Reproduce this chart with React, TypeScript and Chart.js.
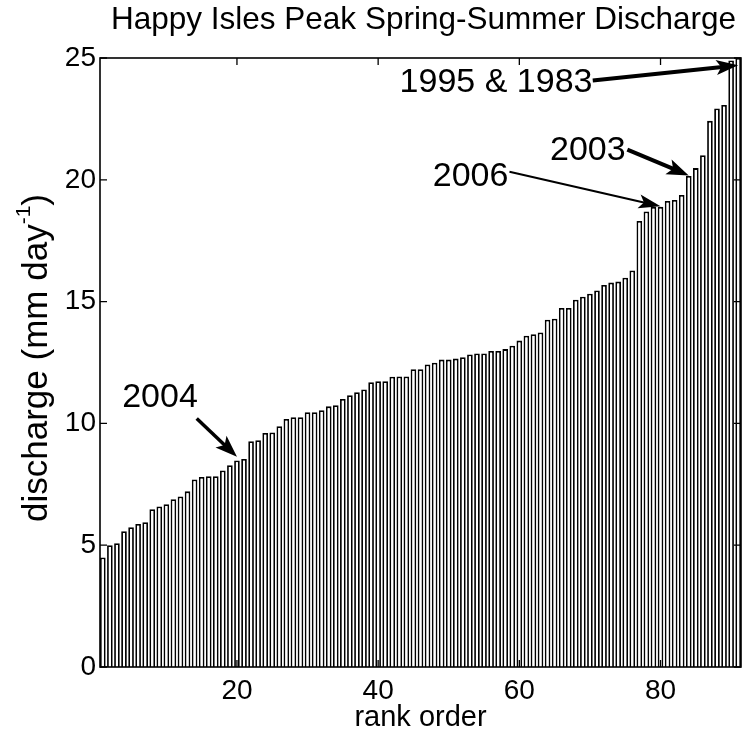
import React, { useEffect, useRef } from "react";
import { Chart, registerables } from "chart.js";

Chart.register(...registerables);

// Peak spring-summer discharge (mm/day), sorted by rank
const discharge = [
  4.5, 5.0, 5.08, 5.57, 5.74, 5.87, 5.94, 6.48, 6.59, 6.68,
  6.89, 7.0, 7.21, 7.7, 7.8, 7.83, 7.83, 8.07, 8.28, 8.48,
  8.54, 9.27, 9.31, 9.61, 9.63, 9.88, 10.18, 10.25, 10.25, 10.46,
  10.46, 10.54, 10.7, 10.75, 11.0, 11.16, 11.28, 11.39, 11.69, 11.73,
  11.73, 11.92, 11.93, 11.93, 12.22, 12.22, 12.42, 12.49, 12.62, 12.62,
  12.66, 12.72, 12.83, 12.87, 12.87, 12.97, 12.97, 13.05, 13.19, 13.4,
  13.6, 13.66, 13.73, 14.26, 14.3, 14.74, 14.74, 15.08, 15.2, 15.32,
  15.46, 15.68, 15.78, 15.82, 15.98, 16.28, 18.31, 18.7, 18.89, 18.89,
  19.13, 19.17, 19.38, 20.16, 20.48, 21.01, 22.42, 22.93, 23.07, 24.9,
  25.0,
];
const ranks = discharge.map((_, i) => i + 1);

const xTicks = [20, 40, 60, 80];
const yTicks = [0, 5, 10, 15, 20, 25];

const titleText = "Happy Isles Peak Spring-Summer Discharge";
const xTitle = "rank order";

// annotation labels and the rank each arrow points to
const noteTexts = ["2004", "2006", "2003", "1995 & 1983"];
const noteTargets = [20, 80, 84, 91];

const FONT = "'Liberation Sans', Arial, Helvetica, sans-serif";

const notesLayout = [
  { tx: 9.1, ty: 11.05, fx: 14.3, fy: 10.2, lw: 3.5, hl: 22, hw: 16, dy: 0.15 },
  { tx: 53.1, ty: 20.15, fx: 58.6, fy: 20.33, lw: 2, hl: 22, hw: 14, dy: 0.02 },
  { tx: 69.7, ty: 21.2, fx: 75.3, fy: 21.24, lw: 4, hl: 22, hw: 16, dy: 0.02 },
  { tx: 56.7, ty: 24.0, fx: 70.4, fy: 24.08, lw: 4, hl: 22, hw: 15, dy: -0.3 },
];

function drawArrow(ctx: CanvasRenderingContext2D, x1: number, y1: number, x2: number, y2: number, lw: number, hl: number, hw: number) {
  const ang = Math.atan2(y2 - y1, x2 - x1);
  const c = Math.cos(ang);
  const s = Math.sin(ang);
  const bx = x2 - hl * c;
  const by = y2 - hl * s;
  ctx.lineWidth = lw;
  ctx.lineCap = "butt";
  ctx.beginPath();
  ctx.moveTo(x1, y1);
  ctx.lineTo(bx + 6 * c, by + 6 * s);
  ctx.stroke();
  const nx = -s;
  const ny = c;
  ctx.beginPath();
  ctx.moveTo(x2, y2);
  ctx.lineTo(bx + (nx * hw) / 2, by + (ny * hw) / 2);
  ctx.lineTo(bx + 5 * c, by + 5 * s);
  ctx.lineTo(bx - (nx * hw) / 2, by - (ny * hw) / 2);
  ctx.closePath();
  ctx.fill();
}

const overlay = {
  id: "overlay",
  afterDraw(chart: any) {
    const { ctx, chartArea: ca, scales } = chart;
    const xs = scales.x;
    const ys = scales.y;
    ctx.save();
    ctx.strokeStyle = "#000";
    ctx.fillStyle = "#000";
    // frame
    ctx.lineWidth = 1.6;
    ctx.strokeRect(ca.left, ca.top, ca.right - ca.left, ca.bottom - ca.top);
    // inward ticks
    const tl = 7;
    ctx.lineWidth = 1.3;
    ctx.beginPath();
    xs.ticks.forEach((t: any) => {
      const px = xs.getPixelForValue(t.value);
      ctx.moveTo(px, ca.bottom);
      ctx.lineTo(px, ca.bottom - tl);
      ctx.moveTo(px, ca.top);
      ctx.lineTo(px, ca.top + tl);
    });
    ys.ticks.forEach((t: any) => {
      const py = ys.getPixelForValue(t.value);
      ctx.moveTo(ca.left, py);
      ctx.lineTo(ca.left + tl, py);
      ctx.moveTo(ca.right, py);
      ctx.lineTo(ca.right - tl, py);
    });
    ctx.stroke();

    // title
    ctx.font = `31.5px ${FONT}`;
    ctx.textAlign = "center";
    ctx.textBaseline = "middle";
    ctx.fillText(titleText, 423.5, 20);

    // x title
    ctx.font = `29px ${FONT}`;
    ctx.fillText(xTitle, (ca.left + ca.right) / 2, 718);

    // y title with superscript
    ctx.save();
    ctx.translate(37, 358);
    ctx.rotate(-Math.PI / 2);
    ctx.textAlign = "left";
    ctx.textBaseline = "middle";
    const big = `35px ${FONT}`;
    const small = `21px ${FONT}`;
    const p1 = "discharge (mm day";
    const p2 = "-1";
    const p3 = ")";
    ctx.font = big;
    const w1 = ctx.measureText(p1).width;
    const w3 = ctx.measureText(p3).width;
    ctx.font = small;
    const w2 = ctx.measureText(p2).width;
    const total = w1 + w2 + w3;
    let x0 = -total / 2;
    ctx.font = big;
    ctx.fillText(p1, x0, 0);
    x0 += w1;
    ctx.font = small;
    ctx.fillText(p2, x0, -13);
    x0 += w2;
    ctx.font = big;
    ctx.fillText(p3, x0, 0);
    ctx.restore();

    // annotations
    ctx.font = `34px ${FONT}`;
    ctx.textAlign = "center";
    ctx.textBaseline = "middle";
    noteTexts.forEach((txt, i) => {
      const L = notesLayout[i];
      const r = noteTargets[i];
      ctx.fillText(txt, xs.getPixelForValue(L.tx), ys.getPixelForValue(L.ty));
      const x1 = xs.getPixelForValue(L.fx);
      const y1 = ys.getPixelForValue(L.fy);
      const x2 = xs.getPixelForValue(r);
      const y2 = ys.getPixelForValue(discharge[r - 1] + L.dy);
      drawArrow(ctx, x1, y1, x2, y2, L.lw, L.hl, L.hw);
    });
    ctx.restore();
  },
};

export default function App() {
  const ref = useRef<HTMLCanvasElement>(null);
  useEffect(() => {
    document.body.style.margin = "0";
    const canvas = ref.current!;
    const chart = new Chart(canvas, {
      type: "bar",
      data: {
        datasets: [
          {
            data: ranks.map((r, i) => ({ x: r, y: discharge[i] })),
            backgroundColor: "#ffffff",
            borderColor: "#000000",
            borderWidth: 1.8,
            barPercentage: 0.8,
            categoryPercentage: 1.0,
          },
        ],
      },
      options: {
        animation: false,
        responsive: false,
        devicePixelRatio: 1,
        layout: { padding: { left: 0, right: 8, top: 58, bottom: 0 } },
        plugins: { legend: { display: false }, tooltip: { enabled: false }, title: { display: false } },
        scales: {
          x: {
            type: "linear",
            min: 0.6,
            max: 91.4,
            offset: false,
            grid: { display: false, drawTicks: false },
            border: { display: false },
            afterBuildTicks: (s: any) => {
              s.ticks = xTicks.map((v) => ({ value: v }));
            },
            afterFit: (s: any) => {
              s.height = 73;
            },
            ticks: {
              font: { family: FONT, size: 28 },
              color: "#000",
              padding: 7,
              maxRotation: 0,
              autoSkip: false,
              callback: (v: any) => String(v),
            },
          },
          y: {
            min: 0,
            max: 25,
            grid: { display: false, drawTicks: false },
            border: { display: false },
            afterBuildTicks: (s: any) => {
              s.ticks = yTicks.map((v) => ({ value: v }));
            },
            afterFit: (s: any) => {
              s.width = 100;
            },
            ticks: {
              font: { family: FONT, size: 28 },
              color: "#000",
              padding: 4,
              callback: (v: any) => String(v),
            },
          },
        },
      },
      plugins: [overlay],
    });
    return () => chart.destroy();
  }, []);
  return (
    <div style={{ width: 749, height: 740, background: "#fff" }}>
      <canvas ref={ref} width={749} height={740} style={{ display: "block" }} />
    </div>
  );
}
